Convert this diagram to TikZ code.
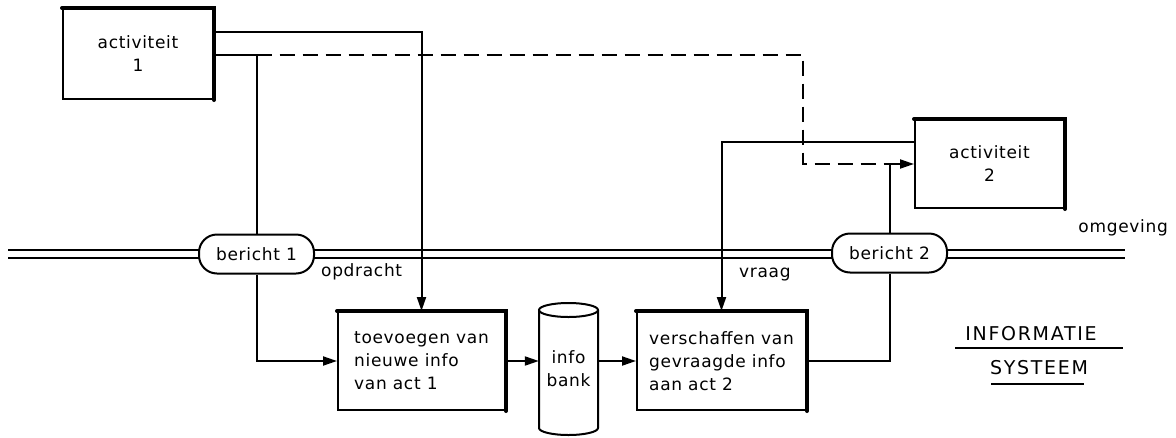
\documentclass[tikz,border=0pt]{standalone}
\usepackage{fontspec}
\setmainfont{DejaVu Sans}[LetterSpace=4]
\newfontfamily\capsfont{DejaVu Sans}[LetterSpace=9]
\usetikzlibrary{arrows.meta}
\tikzset{
  every node/.style={font=\fontsize{17}{23}\selectfont},
  box/.style={draw, line width=2pt, align=center},
  msg/.style={draw, line width=2pt, fill=white, rounded corners=18pt, minimum width=115pt, minimum height=39pt},
  conn/.style={line width=2pt},
  arr/.style={line width=2pt, -{Triangle[length=14pt,width=9pt]}},
  dsh/.style={line width=2pt, dash pattern=on 15pt off 8pt},
  shadowedge/.style={line width=4pt, line cap=round},
  rail/.style={line width=2.2pt},
  lbl/.style={inner sep=0pt}
}
\begin{document}
\begin{tikzpicture}[x=1pt,y=-1pt]
\useasboundingbox (0,0) rectangle (1176,437);

% rails (omgeving / informatie systeem boundary)
\draw[rail] (8,250) -- (1125,250);
\draw[rail] (8,258) -- (1125,258);

% boxes
\node[box, minimum width=150pt, minimum height=90pt] (a1) at (138,54) {activiteit\\1};
\node[box, minimum width=149pt, minimum height=88pt] (a2) at (989.5,164) {activiteit\\2};
\node[box, minimum width=167pt, minimum height=98pt, align=left] (toe) at (421.5,361) {toevoegen van\\nieuwe info\\van act 1};
\node[box, minimum width=169pt, minimum height=98pt, align=left] (ver) at (721.5,361) {verschaffen van\\gevraagde info\\aan act 2};

\foreach \n in {a1,a2,toe,ver}
  \draw[shadowedge] (\n.north west) -- (\n.north east) -- (\n.south east);

% info bank (cylinder)
\node[minimum width=59pt, minimum height=132pt, align=center, inner sep=0pt] (bank) at (568.5,369) {info\\bank};
\draw[line width=2pt] (539,310) -- (539,428) arc[start angle=180, end angle=0, x radius=29.5, y radius=7] -- (598,310);
\draw[line width=2pt] (568.5,310) ellipse[x radius=29.5, y radius=7];

% messages
\node[msg] (b1) at (256.5,254) {bericht 1};
\node[msg] (b2) at (889.5,253) {bericht 2};

% connectors
\draw[arr] (a1.east |- 0,32) -| (toe.north);
\draw[conn] (a1.east |- 0,55) -| (b1.north);
\coordinate (d1) at (803,55);
\coordinate (d2) at (803,164);
\draw[dsh] (b1.north |- 0,55) -- (d1) -- (d2) -- (b2.north |- a2.west);
\draw[arr] (b2.north) |- (a2.west);
\draw[arr] (b1.south) |- (toe.west);
\draw[arr] (a2.west |- 0,142) -| (ver.north);
\draw[conn] (ver.east) -| (b2.south);
\draw[arr] (toe.east) -- (toe.east -| bank.west);
\draw[arr] (bank.east |- ver.west) -- (ver.west);

% labels
\node[lbl, anchor=west] (opd) at (321,272) {opdracht};
\node[lbl, anchor=west] (vr) at (739,275) {vraag};
\node[lbl, anchor=east] (omg) at (1168,228) {omgeving};
\node[lbl, font=\capsfont\fontsize{19}{22}\selectfont] (inf) at (1031,334) {INFORMATIE};
\node[lbl, font=\capsfont\fontsize{19}{22}\selectfont] (sys) at (1039,368) {SYSTEEM};
\draw[line width=2pt] (955,348) -- (1123,348);
\draw[line width=2pt] (991,384) -- (1084,384);
\end{tikzpicture}
\end{document}
